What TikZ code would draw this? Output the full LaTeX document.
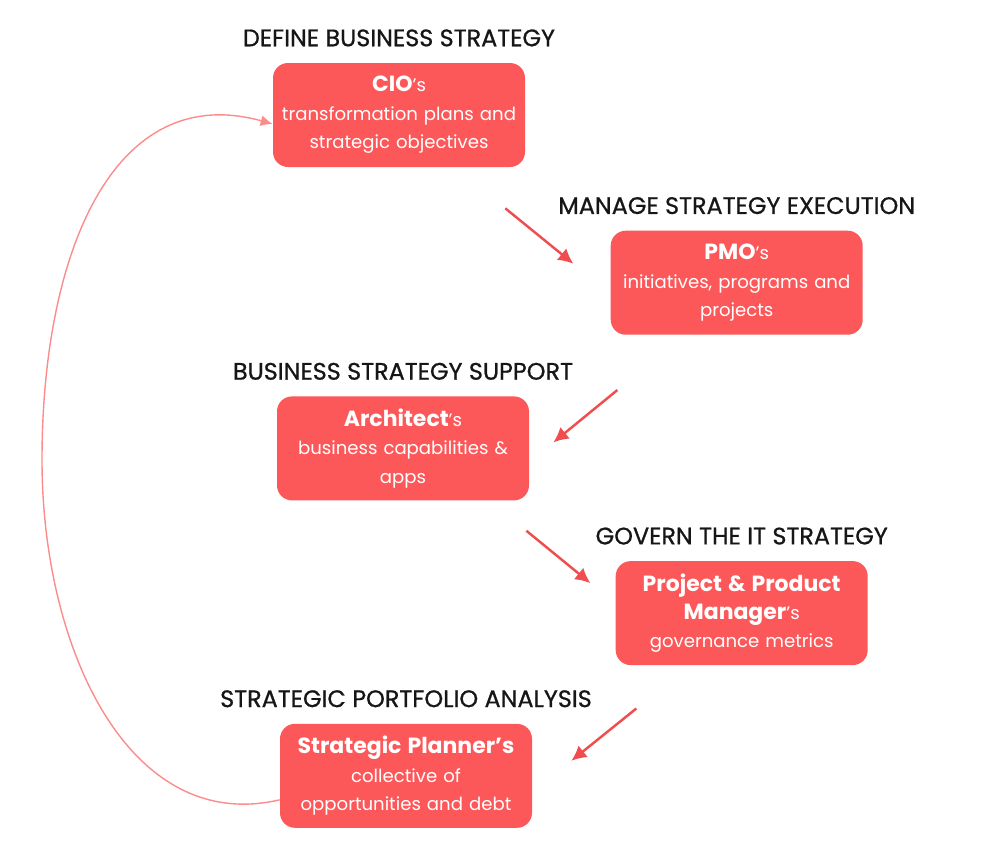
\documentclass[tikz,border=0pt]{standalone}
\usepackage{fontspec}
\setmainfont{Poppins}
\usetikzlibrary{arrows.meta,positioning,calc}
\definecolor{BoxRed}{RGB}{252,88,90}
\definecolor{ArrowRed}{RGB}{240,78,78}
\definecolor{LoopPink}{RGB}{252,140,140}
\definecolor{TitleInk}{RGB}{22,22,22}
\newcommand{\rolehead}[1]{{\fontsize{12.5}{16}\selectfont\bfseries #1}}

\begin{document}
\begin{tikzpicture}[
  role/.style={fill=BoxRed, rounded corners=3mm, minimum width=50.4mm, minimum height=20.8mm,
    inner xsep=1mm, text width=48.4mm, align=center, text=white, font=\fontsize{10.3}{16.2}\selectfont},
  stage/.style={font=\fontsize{13.6}{15}\selectfont\addfontfeatures{FakeBold=0.8}, text=TitleInk},
  flow/.style={-{Latex[length=3mm,width=3mm]}, line width=1.4pt, ArrowRed},
  cycle/.style={-{Latex[length=2.4mm,width=2.2mm]}, line width=0.8pt, LoopPink},
  node distance=2mm
]
  \useasboundingbox (0,0) rectangle (20,-17.2);

  \node[role] (cio) at (7.98,-2.3) {\rolehead{CIO}’s\\transformation plans and\\strategic objectives};
  \node[role, below right=12.6mm and 17mm of cio] (pmo) {\rolehead{PMO}’s\\initiatives, programs and\\projects};
  \node[role, below left=12.2mm and 16.2mm of pmo] (arch) {\rolehead{Architect}’s\\business capabilities \&\\apps};
  \node[role, below right=12mm and 17.2mm of arch] (ppm) {\rolehead{Project \& Product}\\\rolehead{Manager}’s\\governance metrics};
  \node[role, below left=11.6mm and 16.6mm of ppm] (sp) {\rolehead{Strategic Planner’s}\\collective of\\opportunities and debt};

  \node[stage, above=of cio] (cio-t) {DEFINE BUSINESS STRATEGY};
  \node[stage, above=of pmo] (pmo-t) {MANAGE STRATEGY EXECUTION};
  \node[stage, above=of arch] (arch-t) {BUSINESS STRATEGY SUPPORT};
  \node[stage, above=of ppm] (ppm-t) {GOVERN THE IT STRATEGY};
  \node[stage, above=of sp] (sp-t) {STRATEGIC PORTFOLIO ANALYSIS};

  \draw[flow] ([xshift=-4mm,yshift=-8.2mm]cio.south east) -- ([xshift=-7.4mm,yshift=3.8mm]pmo.west);
  \draw[flow] ([xshift=1.4mm,yshift=-11mm]pmo.south west) -- ([xshift=4.8mm,yshift=1.2mm]arch.east);
  \draw[flow] ([xshift=-0.6mm,yshift=-6mm]arch.south east) -- ([xshift=-5mm,yshift=6mm]ppm.west);
  \draw[flow] ([xshift=4.2mm,yshift=-8.6mm]ppm.south west) -- ([xshift=7.8mm,yshift=3mm]sp.east);

  % back to the start
  \draw[cycle] ([yshift=-4.8mm]sp.west) .. controls (2.6,-16.7) and (0.84,-13) .. (0.84,-9.2)
    .. controls (0.84,-5.0) and (2.3,-1.6) .. ([yshift=-1.8mm]cio.west);
\end{tikzpicture}
\end{document}
